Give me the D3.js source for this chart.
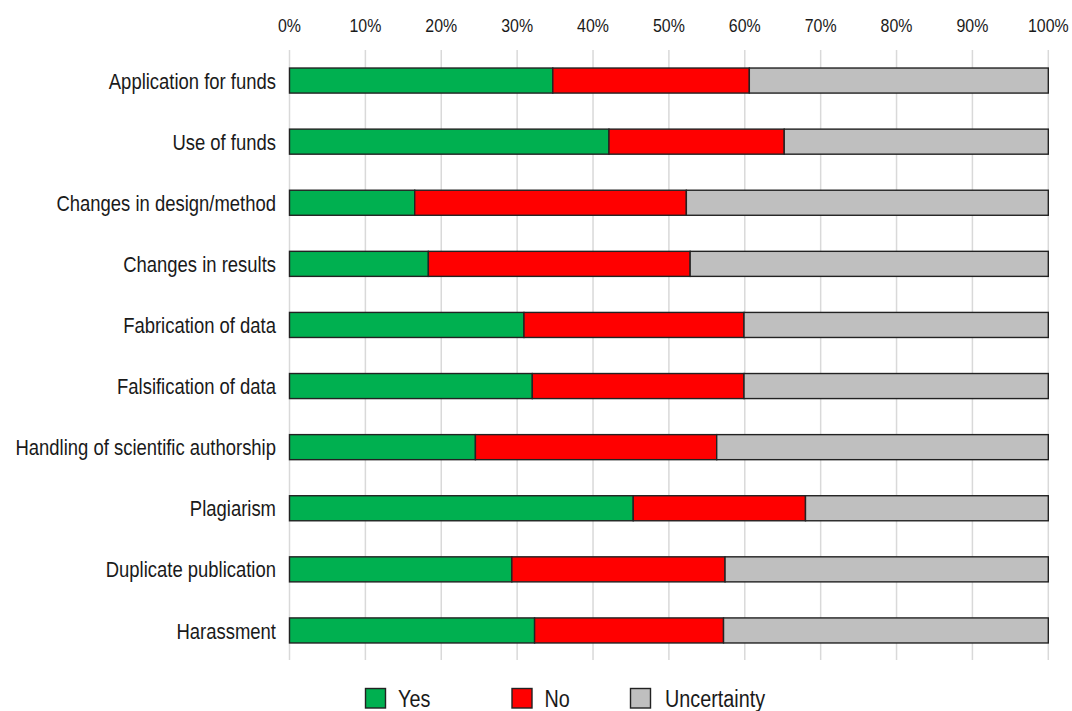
<!DOCTYPE html>
<html>
<head>
<meta charset="utf-8">
<script src="https://cdn.jsdelivr.net/npm/d3@7"></script>
<style>
	body{margin:0;background:#fff}
	text{font-family:"Liberation Sans",Arial,sans-serif;fill:#1a1a1a}
</style>
</head>
<body>
<div id="chart"></div>
<script>

var categories=["Application for funds","Use of funds","Changes in design/method","Changes in results",
	"Fabrication of data","Falsification of data","Handling of scientific authorship","Plagiarism",
	"Duplicate publication","Harassment"]
var yes=[34.7,42.1,16.5,18.3,30.9,32.0,24.5,45.3,29.3,32.3]
var no=[25.9,23.1,35.8,34.5,29.0,27.9,31.8,22.7,28.1,24.9]
var uncertainty=yes.map(function(d,i){return 100-d-no[i]})
var series=["Yes","No","Uncertainty"]
var colors=["#00b050","#ff0000","#bfbfbf"]
var ticks=[0,10,20,30,40,50,60,70,80,90,100]

var W=1072,H=711
var svg=d3.select("#chart").append("svg").attr("width",W).attr("height",H)

var x=d3.scaleLinear().domain([0,100]).range([289.5,1048.3])
var y=d3.scaleBand().domain(categories).range([50,661]).paddingInner(0.59).paddingOuter(0.295)

// squeeze text horizontally like the original
function squeeze(sel,k){
	sel.each(function(){
		var l=this.getComputedTextLength()
		d3.select(this).attr("textLength",l*k).attr("lengthAdjust","spacingAndGlyphs")
	})
}

// grid
svg.append("g").selectAll("line").data(ticks).enter().append("line")
	.attr("x1",d=>x(d)).attr("x2",d=>x(d))
	.attr("y1",50).attr("y2",660)
	.attr("stroke","#d9d9d9").attr("stroke-width",1.5)

// top ticks
var tl=svg.append("g").selectAll("text").data(ticks).enter().append("text")
	.attr("x",d=>x(d)).attr("y",31.5)
	.attr("text-anchor","middle")
	.attr("font-size",18.5)
	.text(d=>d+"%")
squeeze(tl,0.86)

// stacked data
var rows=categories.map(function(c,i){return {cat:c,Yes:yes[i],No:no[i],Uncertainty:uncertainty[i]}})
var stack=d3.stack().keys(series)(rows)

svg.append("g").selectAll("g").data(stack).enter().append("g")
	.attr("fill",(d,i)=>colors[i])
	.selectAll("rect").data(d=>d).enter().append("rect")
	.attr("x",d=>x(d[0]))
	.attr("width",d=>x(d[1])-x(d[0]))
	.attr("y",d=>y(d.data.cat))
	.attr("height",y.bandwidth())
	.attr("stroke","#222").attr("stroke-width",1.4)

// category labels
var cl=svg.append("g").selectAll("text").data(categories).enter().append("text")
	.attr("x",276).attr("y",d=>y(d)+y.bandwidth()/2)
	.attr("dy","0.36em")
	.attr("text-anchor","end")
	.attr("font-size",22.5)
	.text(d=>d)
squeeze(cl,0.82)

// legend
var legendX=[365.5,512,630.5]
var lg=svg.append("g").selectAll("g").data(series).enter().append("g")
	.attr("transform",(d,i)=>"translate("+legendX[i]+",688.5)")
lg.append("rect").attr("width",20).attr("height",19.5)
	.attr("fill",(d,i)=>colors[i]).attr("stroke","#222").attr("stroke-width",1.4)
var lt=lg.append("text").attr("x",(d,i)=>i==2?34.5:32.5).attr("y",18.2)
	.attr("font-size",23)
	.text(d=>d)
squeeze(lt,0.86)

</script>
</body>
</html>
